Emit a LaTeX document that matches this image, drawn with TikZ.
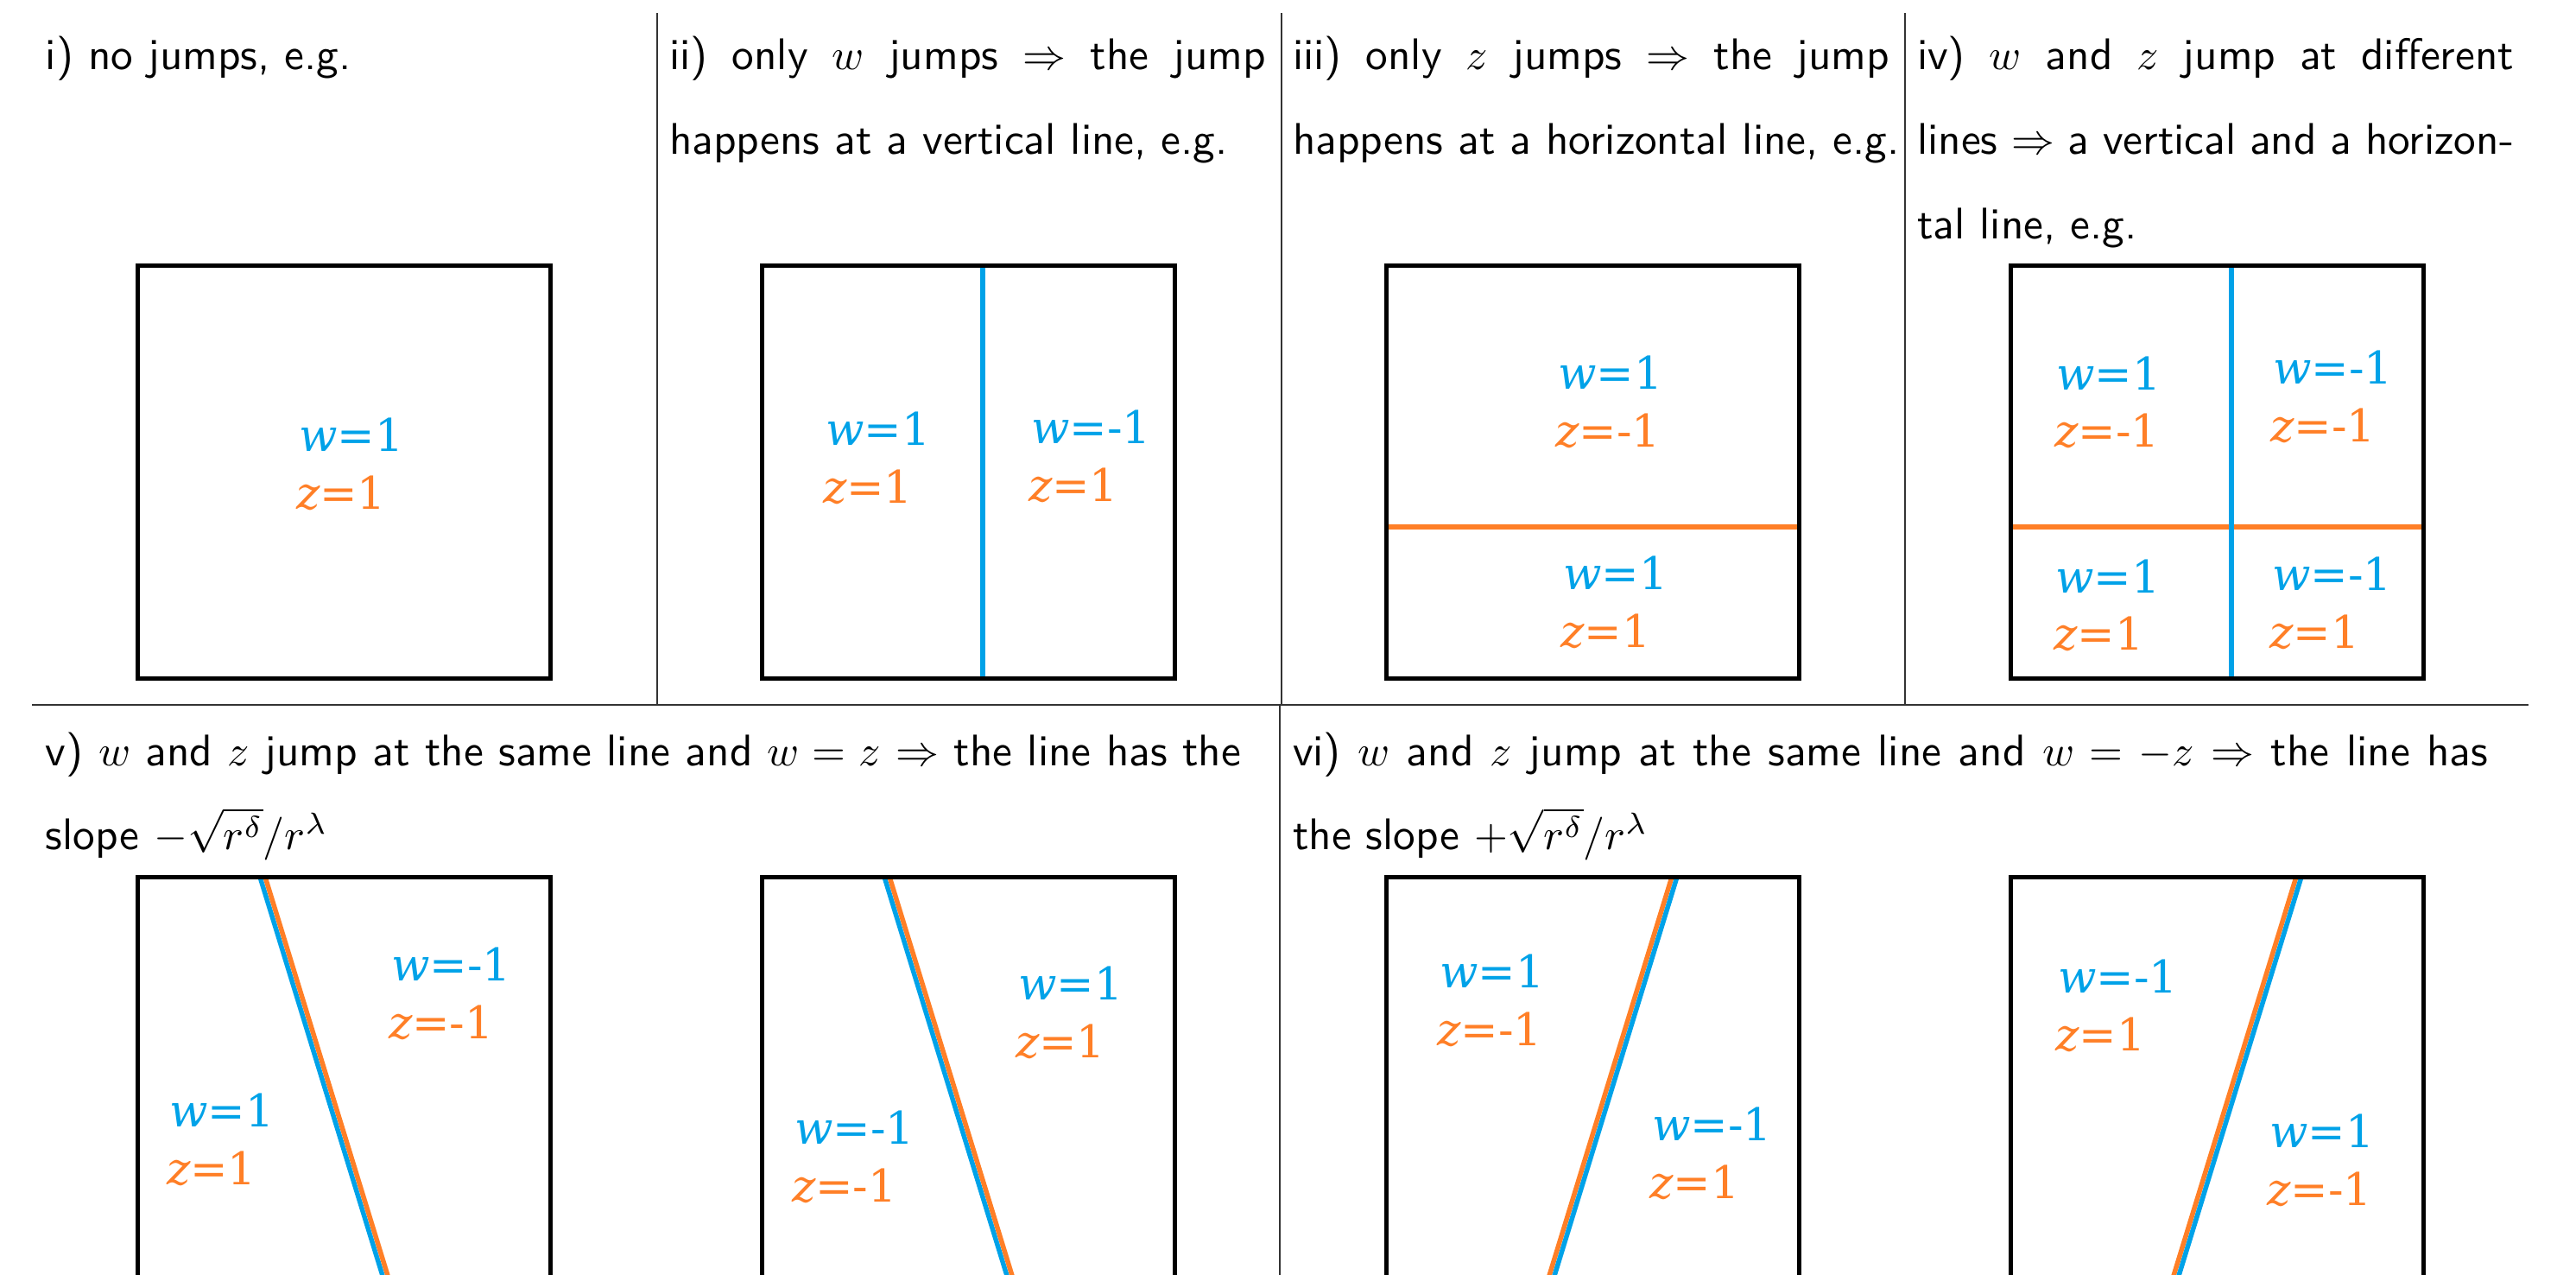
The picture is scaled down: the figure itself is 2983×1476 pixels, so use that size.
\documentclass[tikz,border=0pt]{standalone}
\usepackage{fontspec}
\newfontfamily\lblfont{DejaVu Serif}
\definecolor{wblue}{RGB}{0,162,232}
\definecolor{zorange}{RGB}{255,127,39}
\begin{document}
\begin{tikzpicture}[x=0.2pt,y=-0.2pt,
  sep/.style={line width=0.3pt, draw=black!80},
  frame/.style={line width=1pt, draw=black},
  wline/.style={line width=1.2pt, draw=wblue},
  zline/.style={line width=1.2pt, draw=zorange},
  sw/.style={line width=1.1pt, draw=wblue},
  sz/.style={line width=1.1pt, draw=zorange},
  head/.style={font=\sffamily\fontsize{10.25}{12}\selectfont, anchor=base west, inner sep=0pt},
  wl/.style={font=\lblfont\fontsize{10.4}{12}\selectfont, text=wblue, anchor=base west, inner sep=0pt},
  zl/.style={font=\lblfont\fontsize{10.4}{12}\selectfont, text=zorange, anchor=base west, inner sep=0pt}]
\useasboundingbox (0,0) rectangle (2983,1476);
\clip (0,0) rectangle (2983,1476);
% separators
\coordinate (s1t) at (761,15);  \coordinate (s1b) at (761,816);
\coordinate (s2t) at (1484,15); \coordinate (s2b) at (1484,816);
\coordinate (s3t) at (2206,15); \coordinate (s3b) at (2206,816);
\coordinate (hl) at (37,816);   \coordinate (hr) at (2928,816);
\coordinate (s4t) at (1482,816); \coordinate (s4b) at (1482,1476);
\draw[sep] (s1t) -- (s1b);
\draw[sep] (s2t) -- (s2b);
\draw[sep] (s3t) -- (s3b);
\draw[sep] (hl) -- (hr);
\draw[sep] (s4t) -- (s4b);
% headings
\node[head] (h1) at (52,81) {i) no jumps, e.g.};
\node[head] (h2a) at (774,81) {\makebox[138.2pt][s]{ii) only $w$ jumps $\Rightarrow$ the jump}};
\node[head] (h2b) at (774,179) {happens at a vertical line, e.g.};
\node[head] (h3a) at (1496,81) {\makebox[138.2pt][s]{iii) only $z$ jumps $\Rightarrow$ the jump}};
\node[head] (h3b) at (1496,179) {happens at a horizontal line, e.g.};
\node[head] (h4a) at (2219,81) {\makebox[138.2pt][s]{iv) $w$ and $z$ jump at different}};
\node[head] (h4b) at (2219,179) {\makebox[138.2pt][s]{lines $\Rightarrow$ a vertical and a horizon-}};
\node[head] (h4c) at (2219,277) {tal line, e.g.};
\node[head] (h5a) at (52,886) {\makebox[276.8pt][s]{v) $w$ and $z$ jump at the same line and $w=z$ $\Rightarrow$ the line has the}};
\node[head] (h5b) at (52,984) {slope $-\sqrt{r^\delta}/r^\lambda$};
\node[head] (h6a) at (1496,886) {\makebox[276.8pt][s]{vi) $w$ and $z$ jump at the same line and $w=-z$ $\Rightarrow$ the line has}};
\node[head] (h6b) at (1496,984) {the slope $+\sqrt{r^\delta}/r^\lambda$};
% top row inner lines
\draw[wline] (1138,308) -- (1138,786);
\draw[zline] (1605,610) -- (2083,610);
\draw[zline] (2328,610) -- (2806,610);
\draw[wline] (2584,308) -- (2584,786);
% bottom row slanted lines
\draw[sw] (301,1015) -- (448,1493);
\draw[sz] (307,1015) -- (454,1493);
\draw[sw] (1024,1015) -- (1171,1493);
\draw[sz] (1030,1015) -- (1177,1493);
\draw[sz] (1936,1015) -- (1789,1493);
\draw[sw] (1942,1015) -- (1795,1493);
\draw[sz] (2659,1015) -- (2512,1493);
\draw[sw] (2665,1015) -- (2518,1493);
% frames
\draw[frame] (159,308) rectangle (637,786);
\draw[frame] (882,308) rectangle (1360,786);
\draw[frame] (1605,308) rectangle (2083,786);
\draw[frame] (2328,308) rectangle (2806,786);
\draw[frame] (159,1015) rectangle (637,1493);
\draw[frame] (882,1015) rectangle (1360,1493);
\draw[frame] (1605,1015) rectangle (2083,1493);
\draw[frame] (2328,1015) rectangle (2806,1493);
% labels top row
\node[wl] (w1) at (345,523) {{\itshape w}=1};
\node[zl] (z1) at (342,590) {{\itshape z}=1};
\node[wl] (w2l) at (955,516) {{\itshape w}=1};
\node[zl] (z2l) at (952,583) {{\itshape z}=1};
\node[wl] (w2r) at (1193,514) {{\itshape w}=-1};
\node[zl] (z2r) at (1190,581) {{\itshape z}=1};
\node[wl] (w3u) at (1803,451) {{\itshape w}=1};
\node[zl] (z3u) at (1800,518) {{\itshape z}=-1};
\node[wl] (w3d) at (1809,683) {{\itshape w}=1};
\node[zl] (z3d) at (1806,750) {{\itshape z}=1};
\node[wl] (w4a) at (2380,452) {{\itshape w}=1};
\node[zl] (z4a) at (2378,518) {{\itshape z}=-1};
\node[wl] (w4b) at (2631,445) {{\itshape w}=-1};
\node[zl] (z4b) at (2628,512) {{\itshape z}=-1};
\node[wl] (w4c) at (2379,687) {{\itshape w}=1};
\node[zl] (z4c) at (2377,753) {{\itshape z}=1};
\node[wl] (w4d) at (2630,684) {{\itshape w}=-1};
\node[zl] (z4d) at (2627,751) {{\itshape z}=1};
% labels bottom row
\node[wl] (w5u) at (452,1135) {{\itshape w}=-1};
\node[zl] (z5u) at (449,1202) {{\itshape z}=-1};
\node[wl] (w5d) at (195,1304) {{\itshape w}=1};
\node[zl] (z5d) at (192,1371) {{\itshape z}=1};
\node[wl] (w6u) at (1178,1157) {{\itshape w}=1};
\node[zl] (z6u) at (1175,1224) {{\itshape z}=1};
\node[wl] (w6d) at (919,1324) {{\itshape w}=-1};
\node[zl] (z6d) at (916,1391) {{\itshape z}=-1};
\node[wl] (w7u) at (1666,1143) {{\itshape w}=1};
\node[zl] (z7u) at (1663,1210) {{\itshape z}=-1};
\node[wl] (w7d) at (1912,1320) {{\itshape w}=-1};
\node[zl] (z7d) at (1909,1387) {{\itshape z}=1};
\node[wl] (w8u) at (2382,1149) {{\itshape w}=-1};
\node[zl] (z8u) at (2379,1216) {{\itshape z}=1};
\node[wl] (w8d) at (2627,1328) {{\itshape w}=1};
\node[zl] (z8d) at (2624,1395) {{\itshape z}=-1};
\end{tikzpicture}
\end{document}
